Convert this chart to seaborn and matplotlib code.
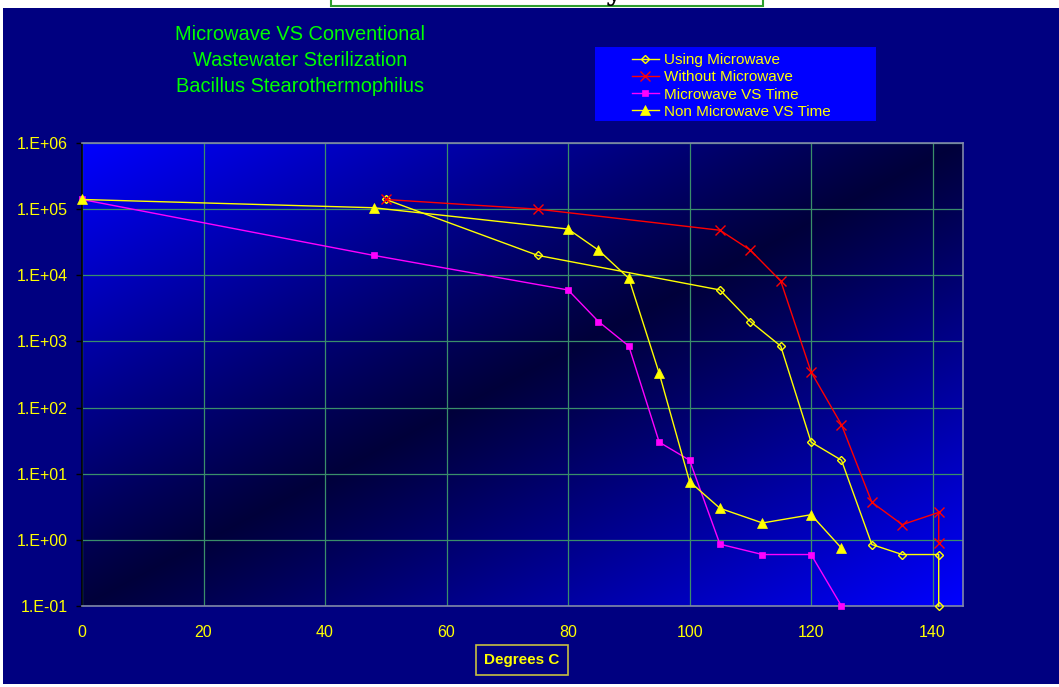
import numpy as np
import pandas as pd
import matplotlib
matplotlib.use("Agg")
import matplotlib.pyplot as plt
import seaborn as sns
from matplotlib.patches import Rectangle
from matplotlib.ticker import FuncFormatter, FixedLocator, NullLocator

# dados (graus C x contagem de esporos)
using_x = [50, 75, 105, 110, 115, 120, 125, 130, 135, 141, 141]
using_y = [1.4e5, 2.0e4, 6.0e3, 2.0e3, 850, 30, 16, 0.85, 0.6, 0.6, 0.1]

without_x = [50, 75, 105, 110, 115, 120, 125, 130, 135, 141, 141]
without_y = [1.4e5, 1.0e5, 4.8e4, 2.4e4, 8.2e3, 345, 55, 3.7, 1.7, 2.6, 0.9]

mw_time_x = [0, 48, 80, 85, 90, 95, 100, 105, 112, 120, 125]
mw_time_y = [1.4e5, 2.0e4, 6.0e3, 2.0e3, 850, 30, 16, 0.86, 0.6, 0.6, 0.1]

nonmw_time_x = [0, 48, 80, 85, 90, 95, 100, 105, 112, 120, 125]
nonmw_time_y = [1.4e5, 1.05e5, 5.0e4, 2.4e4, 9.0e3, 330, 7.6, 3.0, 1.8, 2.4, 0.75]

series_names = ["Using Microwave", "Without Microwave", "Microwave VS Time", "Non Microwave VS Time"]
x_ticks = [0, 20, 40, 60, 80, 100, 120, 140]
y_ticks = [1e-1, 1e0, 1e1, 1e2, 1e3, 1e4, 1e5, 1e6]
title_lines = ["Microwave VS Conventional", "Wastewater Sterilization", "Bacillus Stearothermophilus"]
x_label = "Degrees C"

series = [
    (using_x, using_y, dict(color="#FFFF00", marker="D", markersize=4.5,
                            markerfacecolor="none", markeredgecolor="#FFFF00", markeredgewidth=1.0)),
    (without_x, without_y, dict(color="#FF0000", marker="x", markersize=6.5,
                                markeredgecolor="#FF0000", markeredgewidth=1.0)),
    (mw_time_x, mw_time_y, dict(color="#FF00FF", marker="s", markersize=5,
                                markerfacecolor="#FF00FF", markeredgecolor="#FF00FF", markeredgewidth=0.5)),
    (nonmw_time_x, nonmw_time_y, dict(color="#FFFF00", marker="^", markersize=6.5,
                                      markerfacecolor="#FFFF00", markeredgecolor="#FFFF00", markeredgewidth=0.5)),
]

plt.rcParams['font.family'] = ['Liberation Sans', 'DejaVu Sans']

W, H = 1059, 687
fig = plt.figure(figsize=(W / 100, H / 100), dpi=100, facecolor="white")

# fundo azul marinho + caixa verde cortada no topo
fig.patches.append(Rectangle((3 / W, 3 / H), 1, (H - 11) / H, transform=fig.transFigure,
                             facecolor="#000080", edgecolor="none", zorder=-5))
fig.patches.append(Rectangle((331 / W, 1 - 6 / H), 432 / W, 0.05, transform=fig.transFigure,
                             facecolor="white", edgecolor="#2E9E2E", linewidth=1.5, zorder=-4))
fig.text(613 / W, 1.0, "y", color="black", fontsize=20, fontweight="bold",
         family="DejaVu Serif", ha="center", va="baseline")

ax = fig.add_axes([82 / W, 1 - 606 / H, 881 / W, 463 / H])
ax.set_zorder(1)
ax.patch.set_alpha(0)

# gradiente diagonal da area do grafico
n = 300
xf, yf = np.meshgrid(np.linspace(0, 1, n), np.linspace(0, 1, n))
t = np.abs(xf + yf - 1)
b = 0.23 + 0.77 * t ** 1.05
img = np.dstack([np.zeros_like(b), np.zeros_like(b), b])
ax.imshow(img, extent=[0, 1, 0, 1], transform=ax.transAxes, aspect="auto",
          origin="upper", zorder=0, interpolation="bilinear")

for (xs, ys, st), name in zip(series, series_names):
    df = pd.DataFrame({"x": xs, "y": ys})
    sns.lineplot(data=df, x="x", y="y", ax=ax, estimator=None, sort=False,
                 linewidth=1.0, label=name, clip_on=False, zorder=3, **st)

ax.set_yscale("log")
ax.set_xlim(0, 145)
ax.set_ylim(1e-1, 1e6)
ax.xaxis.set_major_locator(FixedLocator(x_ticks))
ax.yaxis.set_major_locator(FixedLocator(y_ticks))
ax.yaxis.set_minor_locator(NullLocator())
ax.yaxis.set_major_formatter(FuncFormatter(lambda v, p: f"1.E{int(round(np.log10(v))):+03d}"))
ax.set_xlabel("")
ax.set_ylabel("")

ax.grid(True, color="#3A8E6A", linewidth=0.9)
ax.set_axisbelow(True)

ax.tick_params(axis="y", colors="black", labelcolor="#FFFF00", labelsize=11.5,
               length=4, width=1, pad=6, direction="out")
ax.tick_params(axis="x", labelcolor="#FFFF00", labelsize=11.5, length=0, pad=14)

for side in ["top", "right", "bottom"]:
    ax.spines[side].set_color("#8088A8")
    ax.spines[side].set_linewidth(1.2)
ax.spines["left"].set_color("black")
ax.spines["left"].set_linewidth(1.2)

leg_handles, leg_labels = ax.get_legend_handles_labels()
if ax.get_legend() is not None:
    ax.get_legend().remove()

# legenda em caixa azul
fig.patches.append(Rectangle((595 / W, 1 - 121 / H), 281 / W, 74 / H, transform=fig.transFigure,
                             facecolor="#0000FF", edgecolor="none", zorder=2))
leg = fig.legend(leg_handles, leg_labels, loc="center", bbox_to_anchor=(731 / W, 1 - 86 / H),
                 frameon=False, fontsize=11, handlelength=1.8, handletextpad=0.3,
                 labelspacing=0.2, borderpad=0, numpoints=1)
leg.set_zorder(3)
for txt in leg.get_texts():
    txt.set_color("#FFFF00")

for i, line in enumerate(title_lines):
    fig.text(300 / W, 1 - (35 + 26 * i) / H, line, color="#00FF00", fontsize=14.4,
             ha="center", va="center")

fig.text(522 / W, 1 - 660 / H, x_label, color="#FFFF00", fontsize=11, fontweight="bold",
         ha="center", va="center",
         bbox=dict(boxstyle="square,pad=0.55", facecolor="none", edgecolor="#C8C040", linewidth=1.2))

fig.savefig("out.png", dpi=100, facecolor=fig.get_facecolor())
